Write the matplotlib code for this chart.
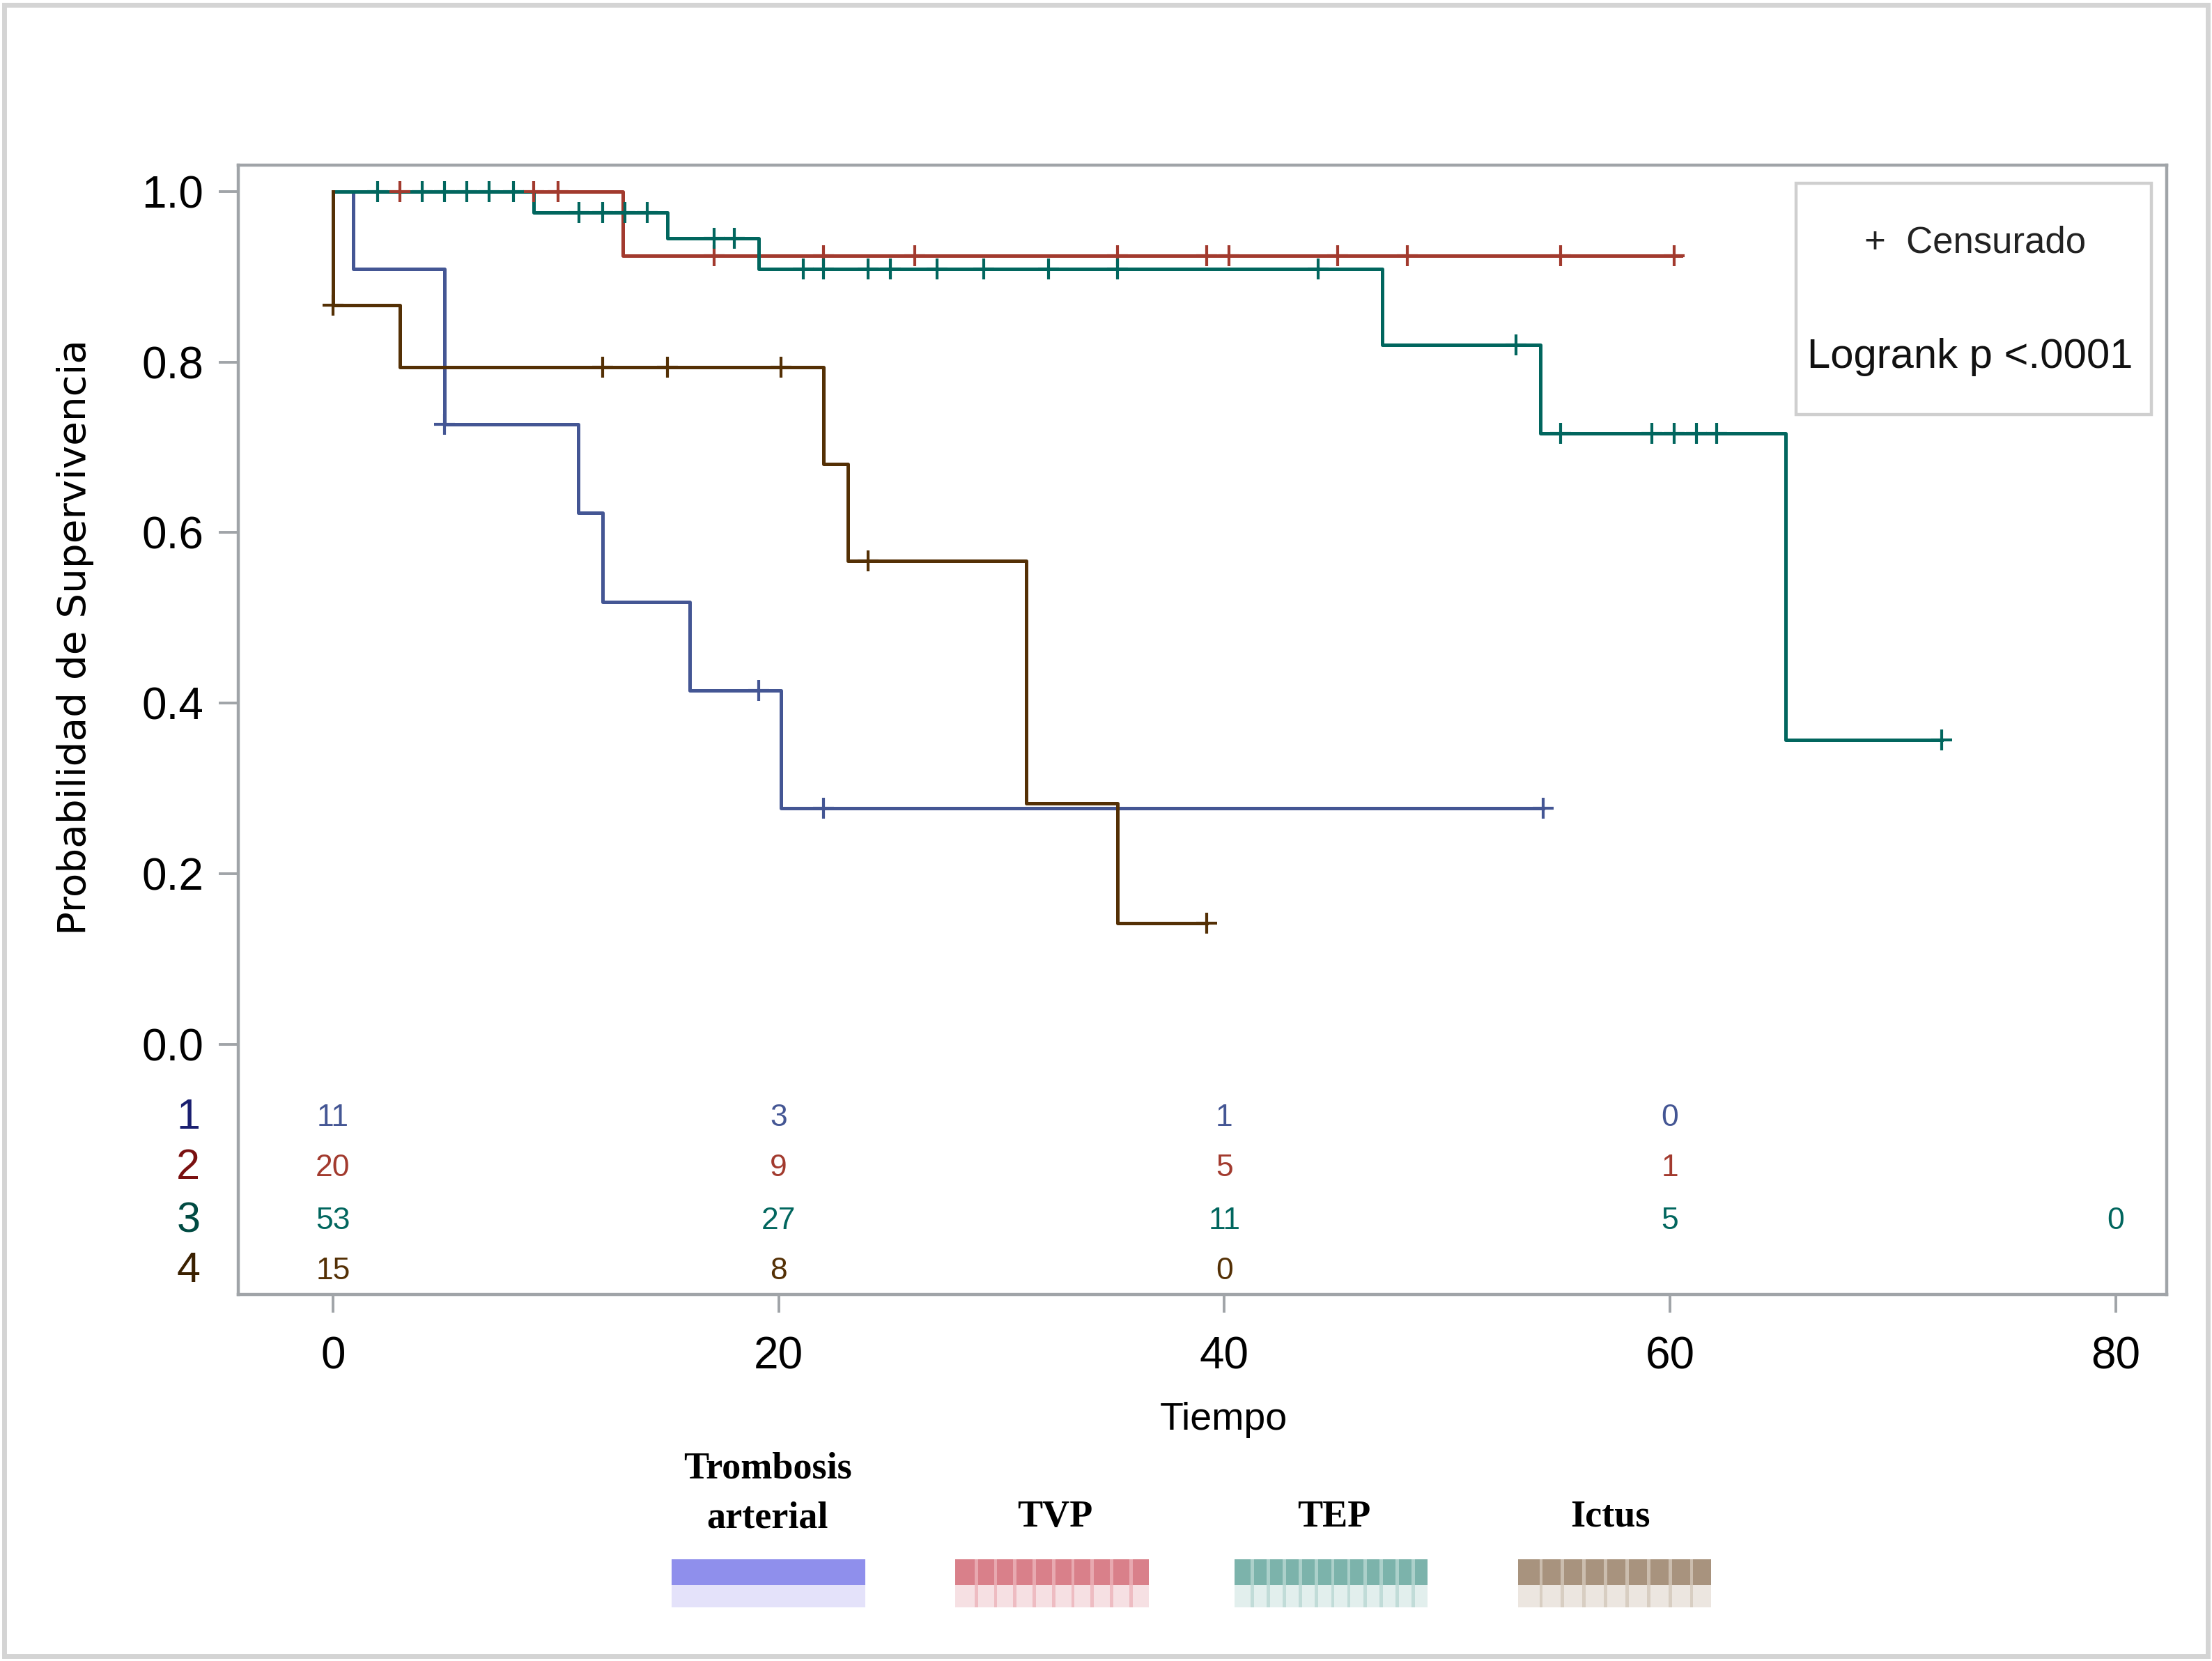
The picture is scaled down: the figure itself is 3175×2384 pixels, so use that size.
import numpy as np
import matplotlib.pyplot as plt
from matplotlib.patches import Rectangle
from matplotlib.transforms import blended_transform_factory

# curvas de Kaplan-Meier
grupos = ['1', '2', '3', '4']
nombres = ['Trombosis\narterial', 'TVP', 'TEP', 'Ictus']
colores = ['#445694', '#A23A2E', '#01665E', '#543005']
colores_fila = ['#1a1f70', '#7a1010', '#004a42', '#3a2000']

t1 = [0, 0.9, 5.0, 11.0, 12.1, 16.0, 20.1]
s1 = [1.0, 0.909, 0.727, 0.623, 0.519, 0.415, 0.277]
fin1 = 54.3
c1 = [5.0, 19.1, 22.0, 54.3]

t2 = [0, 13.0]
s2 = [1.0, 0.925]
fin2 = 60.5
c2 = [3.0, 9.0, 10.1, 17.1, 22.0, 26.1, 35.2, 39.2, 40.2, 45.1, 48.2, 55.1, 60.2]

t3 = [0, 9.0, 15.0, 19.1, 47.1, 54.2, 65.2]
s3 = [1.0, 0.975, 0.945, 0.909, 0.82, 0.716, 0.357]
fin3 = 72.2
c3 = [2.0, 4.0, 5.0, 6.0, 7.0, 8.1, 11.05, 12.1, 13.1, 14.1, 17.1, 18.0, 21.1, 22.0,
      24.0, 25.0, 27.1, 29.2, 32.1, 35.2, 44.2, 53.1, 55.1, 59.2, 60.2, 61.2, 62.1, 72.2]

t4 = [0, 0, 3.0, 22.0, 23.1, 31.1, 35.2]
s4 = [1.0, 0.867, 0.794, 0.680, 0.567, 0.283, 0.142]
fin4 = 39.2
c4 = [0, 12.1, 15.0, 20.1, 24.0, 39.2]

# numero en riesgo
tiempos_riesgo = [0, 20, 40, 60, 80]
riesgo = [[11, 3, 1, 0],
          [20, 9, 5, 1],
          [53, 27, 11, 5, 0],
          [15, 8, 0]]

curvas = [(t1, s1, fin1, c1), (t2, s2, fin2, c2), (t3, s3, fin3, c3), (t4, s4, fin4, c4)]

narrow = ['Liberation Sans Narrow', 'Liberation Sans', 'DejaVu Sans']

fig = plt.figure(figsize=(15.875, 11.92), dpi=200)
ax = fig.add_axes([0.1078, 0.2207, 0.8718, 0.68])

for (t, s, fin, cens), col in zip(curvas, colores):
    x = np.append(t, fin)
    y = np.append(s, s[-1])
    ax.step(x, y, where='post', color=col, lw=1.8, zorder=3)
    t = np.array(t)
    s = np.array(s)
    yc = s[np.searchsorted(t, cens, side='right') - 1]
    ax.plot(cens, yc, ls='none', marker='+', ms=11, mew=1.5, color=col, zorder=4)

ax.set_xlim(-4.24, 82.3)
ax.set_ylim(-0.293, 1.031)
ax.set_yticks([0, 0.2, 0.4, 0.6, 0.8, 1.0])
ax.set_yticklabels(['0.0', '0.2', '0.4', '0.6', '0.8', '1.0'])
ax.set_xticks([0, 20, 40, 60, 80])
for sp in ax.spines.values():
    sp.set_color('#a0a4a8')
    sp.set_linewidth(1.6)
ax.tick_params(axis='y', length=10, width=1.4, color='#a0a4a8', pad=8, labelsize=23)
ax.tick_params(axis='x', length=9.5, width=1.4, color='#a0a4a8', pad=12, labelsize=23)
for lab in ax.get_xticklabels() + ax.get_yticklabels():
    lab.set_family(narrow)

ax.set_xlabel('Tiempo', family=narrow, fontsize=20)
ax.xaxis.set_label_coords(0.511, -0.095)
ax.set_ylabel('Probabilidad de Supervivencia', family=['DejaVu Sans'], fontsize=20.3)
ax.yaxis.set_label_coords(-0.075, 0.582)

# tabla de numero en riesgo
y_filas = [-0.086, -0.145, -0.207, -0.266]
trans = blended_transform_factory(ax.transAxes, ax.transData)
for i in range(4):
    ax.text(-0.026, y_filas[i], grupos[i], transform=trans, ha='center', va='center',
            fontsize=22, color=colores_fila[i], family=narrow, clip_on=False)
    for j in range(len(riesgo[i])):
        ax.text(tiempos_riesgo[j], y_filas[i], str(riesgo[i][j]), ha='center', va='center',
                fontsize=16, color=colores[i], family=narrow)

# recuadro de censura y logrank
ax.add_patch(Rectangle((0.8076, 0.779), 0.1844, 0.2048, transform=ax.transAxes,
                       fill=True, fc='white', ec='#cfcfcf', lw=1.6, zorder=5))
ax.text(0.9005, 0.931, '+  Censurado', transform=ax.transAxes, ha='center', va='center',
        fontsize=19, family=narrow, color='#222222', zorder=6)
ax.text(0.898, 0.830, 'Logrank p <.0001', transform=ax.transAxes, ha='center', va='center',
        fontsize=21.5, family=narrow, color='#111111', zorder=6)

# leyenda inferior con barras
x_leyenda = [0.347, 0.477, 0.603, 0.728]
x_barra = [0.3036, 0.4318, 0.5580, 0.6862]
color_barra = ['#8f8fec', '#d9808a', '#7cb3ab', '#a8937e']
color_raya = ['#8f8fec', '#ecb4ba', '#b9d8d3', '#d4c8bb']
color_reflejo = ['#e4e2fa', '#f6e0e3', '#e2efed', '#ece6e0']
n_rayas = [0, 9, 11, 8]
ancho = 0.0875
for k in range(4):
    if k == 0:
        fig.text(x_leyenda[k], 0.1007, nombres[k], ha='center', va='center', fontsize=19.5,
                 family='Liberation Serif', weight='bold', linespacing=1.55)
    else:
        fig.text(x_leyenda[k], 0.0866, nombres[k], ha='center', va='center', fontsize=19.5,
                 family='Liberation Serif', weight='bold')
    fig.add_artist(Rectangle((x_barra[k], 0.0458), ancho, 0.0153, transform=fig.transFigure,
                             fc=color_barra[k], ec='none'))
    fig.add_artist(Rectangle((x_barra[k], 0.0323), ancho, 0.0135, transform=fig.transFigure,
                             fc=color_reflejo[k], ec='none'))
    for xr in np.linspace(x_barra[k], x_barra[k] + ancho, n_rayas[k] + 2)[1:-1] if n_rayas[k] else []:
        fig.add_artist(Rectangle((xr, 0.0323), 0.0015, 0.0288, transform=fig.transFigure,
                                 fc=color_raya[k], ec='none', alpha=0.8))

# marco exterior
fig.add_artist(Rectangle((0.002, 0.003), 0.996, 0.994, transform=fig.transFigure,
                         fill=False, ec='#d4d4d4', lw=2.5))

fig.savefig('out.png', dpi=200, facecolor='white')
